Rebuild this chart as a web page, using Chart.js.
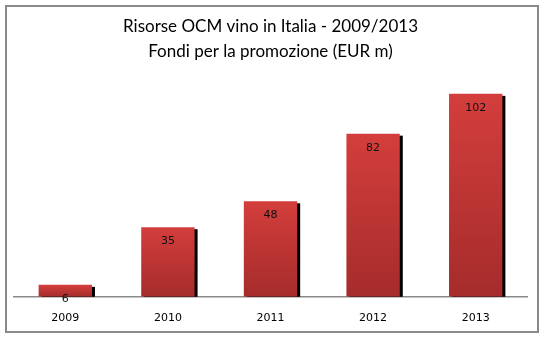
<!DOCTYPE html>
<html>
<head>
<meta charset="utf-8">
<script src="https://cdn.jsdelivr.net/npm/chart.js@4"></script>
<style>
  body { margin: 0; background: #fff; }
  #wrap { width: 544px; height: 337px; position: relative; }
</style>
</head>
<body>
<div id="wrap"><canvas id="ocm-chart"></canvas></div>
<script>
const years = ['2009', '2010', '2011', '2012', '2013'];
const funds = [6, 35, 48, 82, 102];
const titleLines = ['Risorse OCM vino in Italia - 2009/2013', 'Fondi per la promozione (EUR m)'];

const ctx = document.getElementById('ocm-chart');

// outer frame
const frame = {
  id: 'frame',
  afterDraw(chart) {
    const c = chart.ctx;
    c.save();
    c.strokeStyle = '#8a8a8a';
    c.lineWidth = 2;
    c.strokeRect(6, 6, 532, 326);
    c.restore();
  }
};

// black drop shadow behind each bar
const barShadow = {
  id: 'barShadow',
  beforeDatasetsDraw(chart) {
    const c = chart.ctx;
    c.save();
    c.fillStyle = '#000';
    chart.getDatasetMeta(0).data.forEach(bar => {
      const w = bar.width;
      c.fillRect(bar.x - w / 2 + 3, bar.y + 2, w, bar.base - bar.y - 2);
    });
    c.restore();
  }
};

// value labels inside the top of the bars
const valueLabels = {
  id: 'valueLabels',
  afterDatasetsDraw(chart) {
    const c = chart.ctx;
    c.save();
    c.fillStyle = '#111';
    c.font = '11px "DejaVu Sans"';
    c.textAlign = 'center';
    c.textBaseline = 'middle';
    chart.getDatasetMeta(0).data.forEach((bar, i) => {
      c.fillText(funds[i], bar.x, bar.y + 14);
    });
    c.restore();
  }
};

new Chart(ctx, {
  type: 'bar',
  data: {
    labels: years,
    datasets: [{
      data: funds,
      // gradient per bar, from its own top down to the base
      backgroundColor: (context) => {
        const y = context.chart.scales.y;
        if (!context.chart.chartArea || !y || context.raw == null) return '#c53634';
        const top = y.getPixelForValue(context.raw);
        const base = y.getPixelForValue(0);
        const g = context.chart.ctx.createLinearGradient(0, top, 0, base);
        g.addColorStop(0, '#d33e3c');
        g.addColorStop(1, '#a52c2b');
        return g;
      },
      borderWidth: 0,
      categoryPercentage: 1,
      barPercentage: 0.52
    }]
  },
  options: {
    responsive: true,
    maintainAspectRatio: false,
    animation: false,
    layout: {
      padding: { left: 14, right: 17, top: 0, bottom: -3 }
    },
    plugins: {
      legend: { display: false },
      tooltip: { enabled: false },
      title: {
        display: true,
        text: titleLines,
        color: '#000',
        font: { family: 'Lato', size: 17, weight: 'normal', lineHeight: 1.47 },
        padding: { top: 14, bottom: 4 }
      }
    },
    scales: {
      x: {
        grid: { display: false, drawTicks: false },
        border: { display: true, color: '#8a8a8a', width: 1.5 },
        ticks: {
          color: '#000',
          padding: 15,
          font: { family: 'DejaVu Sans', size: 11 }
        }
      },
      y: {
        display: false,
        min: 0,
        max: 115
      }
    }
  },
  plugins: [frame, barShadow, valueLabels]
});
</script>
</body>
</html>
